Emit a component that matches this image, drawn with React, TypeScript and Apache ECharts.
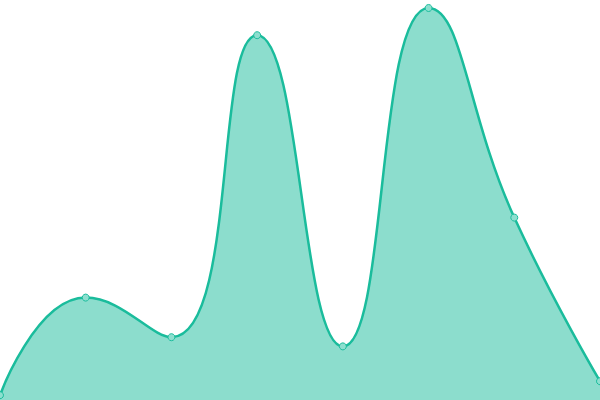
import React, { useEffect, useRef } from "react";
import * as echarts from "echarts";

const categories = ["A", "B", "C", "D", "E", "F", "G", "H"];
const values = [1.2, 25.6, 15.7, 91.2, 13.4, 98.0, 45.6, 4.7];
const yMin = 0;
const yMax = 100;

export default function App() {
  const ref = useRef<HTMLDivElement>(null);
  useEffect(() => {
    document.body.style.margin = "0";
    const chart = echarts.init(ref.current!, null, { renderer: "svg" });
    chart.setOption({
      animation: false,
      grid: { left: 0, right: 0, top: 0, bottom: 0 },
      xAxis: {
        type: "category",
        data: categories,
        boundaryGap: false,
        show: false,
      },
      yAxis: { type: "value", min: yMin, max: yMax, show: false },
      series: [
        {
          type: "line",
          data: values,
          smooth: true,
          symbol: "circle",
          symbolSize: 7,
          lineStyle: { color: "#1abc9c", width: 2.5 },
          itemStyle: { color: "#8ddfcf", borderColor: "#1abc9c", borderWidth: 1 },
          areaStyle: { color: "#1abc9c", opacity: 0.5 },
        },
      ],
    });
    return () => chart.dispose();
  }, []);
  return (
    <div
      ref={ref}
      style={{ position: "fixed", left: 0, top: 0, width: 600, height: 400 }}
    />
  );
}
